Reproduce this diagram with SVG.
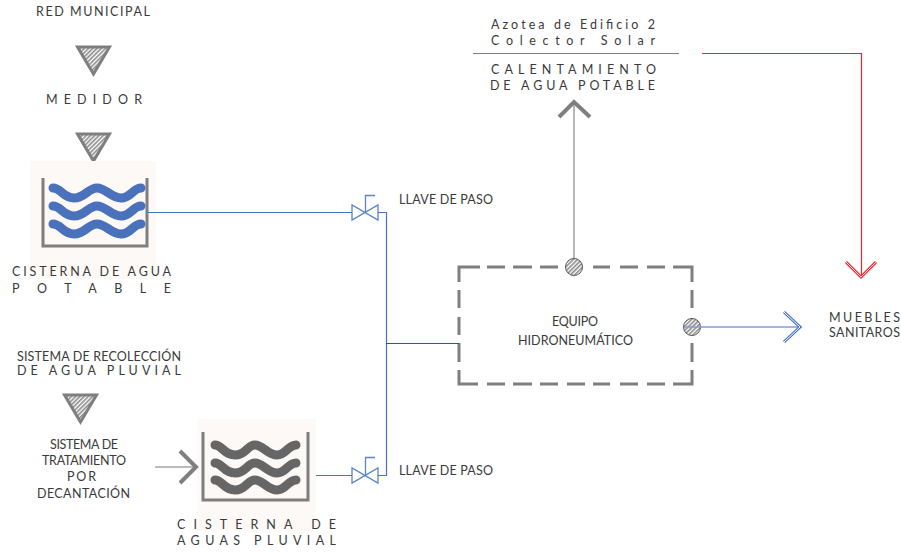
<svg xmlns="http://www.w3.org/2000/svg" width="901" height="553" viewBox="0 0 901 553">
<style>
text{font-family:"Lato","Open Sans","Liberation Sans",sans-serif;font-size:12.5px;fill:#3a3a3a}
.tri{fill:url(#hatch);stroke:#7f7f7f;stroke-width:3;stroke-linejoin:miter}
.bg{fill:#fdf9f6}
.wall{fill:none;stroke:#7f7f7f;stroke-width:3}
.wb{fill:none;stroke:#4a71bb;stroke-width:9;stroke-linecap:round}
.wg{fill:none;stroke:#666;stroke-width:9;stroke-linecap:round}
.pipe{fill:none;stroke:#4472c4;stroke-width:1.2}
.valve{fill:#fff;stroke:#5b84c9;stroke-width:1.3}
.box{fill:none;stroke:#7f7f7f;stroke-width:3}
.port{fill:url(#hatch);stroke:#555;stroke-width:1}
</style>
<defs>
<pattern id="hatch" width="3" height="3" patternUnits="userSpaceOnUse" patternTransform="rotate(45)">
<rect width="3" height="3" fill="#fff"/><rect width="1.6" height="3" fill="#8a8a8a"/>
</pattern>
<path id="wave" d="M0 0C8 0 10 10 21 10S35 0 44 0S58 10 68 10S80 0 88 0"/>
<path id="wave2" d="M0 0C7 0 9 10 20 10S32 0 40 0S53 10 62 10S73 0 81 0"/>
<path id="valveShape" d="M-13 -7.500V7.500L13 -7.500V7.500Z"/>
</defs>

<g id="red-municipal"><text x="36" y="16" textLength="114" lengthAdjust="spacing">RED MUNICIPAL</text></g>
<g id="tri-1"><polygon class="tri" points="77.500,47 109.500,47 93.500,74"/></g>
<g id="medidor"><text x="46" y="104" textLength="96" lengthAdjust="spacing">MEDIDOR</text></g>
<g id="tri-2"><polygon class="tri" points="77.500,134 109.500,134 93.500,161"/></g>

<g id="cisterna-potable">
<rect class="bg" x="30" y="161" width="126" height="118"/>
<path class="wall" d="M43 178V246H147V178"/>
<use href="#wave" class="wb" x="53" y="188"/>
<use href="#wave" class="wb" x="53" y="206"/>
<use href="#wave" class="wb" x="53" y="224"/>
<text x="12" y="276" textLength="159" lengthAdjust="spacing">CISTERNA DE AGUA</text>
<text x="12" y="293" textLength="159" lengthAdjust="spacing">POTABLE</text>
</g>

<g id="valve-1">
<use href="#valveShape" class="valve" x="365" y="212.500"/>
<path class="valve" style="fill:none" d="M365.500 212V195.500H375"/>
<text x="399" y="204" textLength="94" lengthAdjust="spacing">LLAVE DE PASO</text>
</g>
<g id="valve-2">
<use href="#valveShape" class="valve" x="365" y="475.500"/>
<path class="valve" style="fill:none" d="M365.500 475V457.500H375"/>
<text x="399" y="475" textLength="94" lengthAdjust="spacing">LLAVE DE PASO</text>
</g>

<g id="sistema-recoleccion">
<text x="17" y="361" textLength="164" lengthAdjust="spacing">SISTEMA DE RECOLECCIÓN</text>
<text x="17" y="375" textLength="164" lengthAdjust="spacing">DE AGUA PLUVIAL</text>
</g>
<g id="tri-3"><polygon class="tri" points="64.500,395 96.500,395 80.500,422"/></g>
<g id="sistema-tratamiento">
<text x="50" y="449" textLength="68" lengthAdjust="spacing">SISTEMA DE</text>
<text x="42" y="465" textLength="84" lengthAdjust="spacing">TRATAMIENTO</text>
<text x="67" y="481" textLength="29" lengthAdjust="spacing">POR</text>
<text x="37" y="498" textLength="93" lengthAdjust="spacing">DECANTACIÓN</text>
</g>

<g id="cisterna-pluvial">
<rect class="bg" x="197" y="419" width="119" height="112"/>
<path class="wall" d="M203 432V500H308V432"/>
<use href="#wave2" class="wg" x="215" y="445"/>
<use href="#wave2" class="wg" x="215" y="463"/>
<use href="#wave2" class="wg" x="215" y="480"/>
<text x="177" y="529" textLength="159" lengthAdjust="spacing">CISTERNA DE</text>
<text x="177" y="545" textLength="159" lengthAdjust="spacing">AGUAS PLUVIAL</text>
</g>

<g id="equipo">
<path class="box" d="M480 267H459V282M487 267H505M513 267H532M540 267H558M593 267H610M620 267H638M647 267H665M673 267H692V282M692 290V308M692 343V362M692 370V384H673M665 384H647M638 384H620M610 384H593M585 384H567M558 384H540M532 384H513M505 384H487M478 384H459V370M459 362V343M459 335V317M459 308V290"/>
<text x="552" y="326" textLength="46" lengthAdjust="spacing">EQUIPO</text>
<text x="518" y="345" textLength="115" lengthAdjust="spacing">HIDRONEUMÁTICO</text>
<circle class="port" cx="574" cy="267" r="8.500"/>
<circle class="port" cx="692" cy="327" r="8.500"/>
</g>

<g id="colector">
<text x="491" y="29" textLength="164" lengthAdjust="spacing">Azotea de Edificio 2</text>
<text x="491" y="45" textLength="164" lengthAdjust="spacing">Colector Solar</text>
<path d="M473 53.500H679" fill="none" stroke="#7f7f7f" stroke-width="1.200"/>
<text x="491" y="74" textLength="165" lengthAdjust="spacing">CALENTAMIENTO</text>
<text x="490" y="90" textLength="165" lengthAdjust="spacing">DE AGUA POTABLE</text>
</g>

<g id="muebles">
<text x="829" y="322" textLength="71" lengthAdjust="spacing">MUEBLES</text>
<text x="829" y="337" textLength="71" lengthAdjust="spacing">SANITAROS</text>
</g>

<g id="connectors">
<path class="pipe" d="M148 212.500H352M378 212.500H386.500V475.500H378M316 475.500H352"/>
<path d="M386 343.500H459" fill="none" stroke="#2f5597" stroke-width="1"/>
<path d="M574 258V102" fill="none" stroke="#a6a6a6" stroke-width="1.600"/>
<path d="M559 117L574 102L590 117" fill="none" stroke="#7f7f7f" stroke-width="4"/>
<path d="M702 53.500H861.500V277" fill="none" stroke="#ff2020" stroke-width="1.200"/>
<path d="M846 262L861 277L876 262" fill="none" stroke="#ff2a34" stroke-width="3"/>
<path d="M846 262L861 277L876 262" fill="none" stroke="#fff" stroke-width="0.800"/>
<path d="M684 327H800" fill="none" stroke="#7f9ed6" stroke-width="1.600"/>
<path d="M784 312L800 327L784 342" fill="none" stroke="#4472c4" stroke-width="3"/>
<path d="M784 312L800 327L784 342" fill="none" stroke="#fff" stroke-width="1"/>
<path d="M155 467H196" fill="none" stroke="#a6a6a6" stroke-width="1.600"/>
<path d="M180 451L196 467L180 483" fill="none" stroke="#7f7f7f" stroke-width="4"/>
</g>
</svg>
